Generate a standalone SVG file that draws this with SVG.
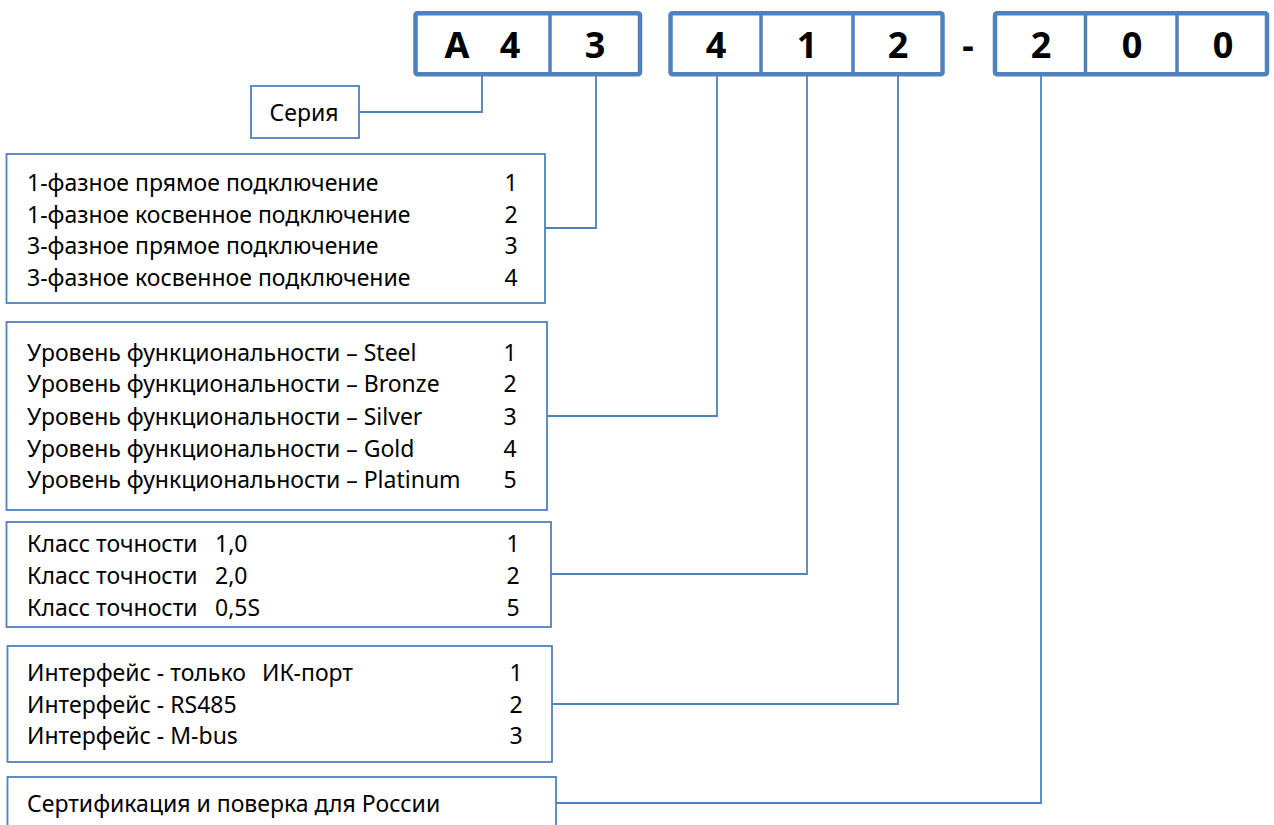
<svg xmlns="http://www.w3.org/2000/svg" width="1274" height="825" viewBox="0 0 1274 825">
<style>
.code{fill:#fff;stroke:#4F81BD;stroke-width:4.5}
.div{stroke:#4F81BD;stroke-width:3.5}
.big{font-family:"Noto Sans","DejaVu Sans",sans-serif;font-weight:bold;font-size:36px;fill:#000;text-anchor:middle}
.box{fill:#fff;stroke:#4F81BD;stroke-width:1.8}
.t{font-family:"Noto Sans","DejaVu Sans",sans-serif;font-size:23px;fill:#000}
.n{font-family:"Noto Sans","DejaVu Sans",sans-serif;font-size:23px;fill:#000;text-anchor:middle}
.conn{fill:none;stroke:#4F81BD;stroke-width:1.8}
</style>
<rect width="1274" height="825" fill="#fff"/>
<g id="connectors">
<path class="conn" d="M359,112 H482 V76"/>
<path class="conn" d="M545,228 H596 V76"/>
<path class="conn" d="M547,416 H717 V76"/>
<path class="conn" d="M551,574 H807 V76"/>
<path class="conn" d="M552,704 H898 V76"/>
<path class="conn" d="M556,803 H1041 V76"/>
</g>
<g id="code-group-1">
<rect class="code" x="415.5" y="13.3" width="224.5" height="61" rx="2"/>
<line class="div" x1="550" y1="13.3" x2="550" y2="74.3"/>
<text class="big" x="457" y="58">A</text>
<text class="big" x="510" y="58">4</text>
<text class="big" x="595" y="58">3</text>
</g>
<g id="code-group-2">
<rect class="code" x="670.5" y="13.3" width="272" height="61" rx="2"/>
<line class="div" x1="761" y1="13.3" x2="761" y2="74.3"/>
<line class="div" x1="853" y1="13.3" x2="853" y2="74.3"/>
<text class="big" x="716" y="58">4</text>
<text class="big" x="807" y="58">1</text>
<text class="big" x="898" y="58">2</text>
</g>
<g id="dash">
<text class="big" x="968" y="58">-</text>
</g>
<g id="code-group-3">
<rect class="code" x="995" y="13.3" width="272" height="61" rx="2"/>
<line class="div" x1="1085.5" y1="13.3" x2="1085.5" y2="74.3"/>
<line class="div" x1="1177" y1="13.3" x2="1177" y2="74.3"/>
<text class="big" x="1041" y="58">2</text>
<text class="big" x="1132" y="58">0</text>
<text class="big" x="1223" y="58">0</text>
</g>
<g id="series">
<rect class="box" x="251" y="86" width="108" height="52"/>
<text class="n" x="304" y="121">Серия</text>
</g>
<g id="phases">
<rect class="box" x="6.5" y="154" width="538.5" height="149"/>
<text class="t" x="27" y="191">1-фазное прямое подключение</text>
<text class="t" x="27" y="222.5">1-фазное косвенное подключение</text>
<text class="t" x="27" y="254">3-фазное прямое подключение</text>
<text class="t" x="27" y="286">3-фазное косвенное подключение</text>
<text class="n" x="511" y="191">1</text>
<text class="n" x="511" y="222.5">2</text>
<text class="n" x="511" y="254">3</text>
<text class="n" x="511" y="286">4</text>
</g>
<g id="functionality">
<rect class="box" x="6.5" y="322" width="540.5" height="188"/>
<text class="t" x="27" y="361">Уровень функциональности – Steel</text>
<text class="t" x="27" y="392">Уровень функциональности – Bronze</text>
<text class="t" x="27" y="425">Уровень функциональности – Silver</text>
<text class="t" x="27" y="457">Уровень функциональности – Gold</text>
<text class="t" x="27" y="488">Уровень функциональности – Platinum</text>
<text class="n" x="510" y="361">1</text>
<text class="n" x="510" y="392">2</text>
<text class="n" x="510" y="425">3</text>
<text class="n" x="510" y="457">4</text>
<text class="n" x="510" y="488">5</text>
</g>
<g id="accuracy">
<rect class="box" x="6.5" y="522" width="544.5" height="105"/>
<text class="t" x="27" y="552">Класс точности</text><text class="t" x="215" y="552">1,0</text>
<text class="t" x="27" y="584">Класс точности</text><text class="t" x="215" y="584">2,0</text>
<text class="t" x="27" y="616">Класс точности</text><text class="t" x="215" y="616">0,5S</text>
<text class="n" x="513" y="552">1</text>
<text class="n" x="513" y="584">2</text>
<text class="n" x="513" y="616">5</text>
</g>
<g id="interface">
<rect class="box" x="7.5" y="646" width="544.5" height="116"/>
<text class="t" x="27" y="681">Интерфейс - только</text><text class="t" x="262" y="681">ИК-порт</text>
<text class="t" x="27" y="713">Интерфейс - RS485</text>
<text class="t" x="27" y="744">Интерфейс - M-bus</text>
<text class="n" x="516" y="681">1</text>
<text class="n" x="516" y="713">2</text>
<text class="n" x="516" y="744">3</text>
</g>
<g id="certification">
<rect class="box" x="7.5" y="777" width="548.5" height="70"/>
<text class="t" x="27" y="812">Сертификация и поверка для России</text>
</g>
</svg>
